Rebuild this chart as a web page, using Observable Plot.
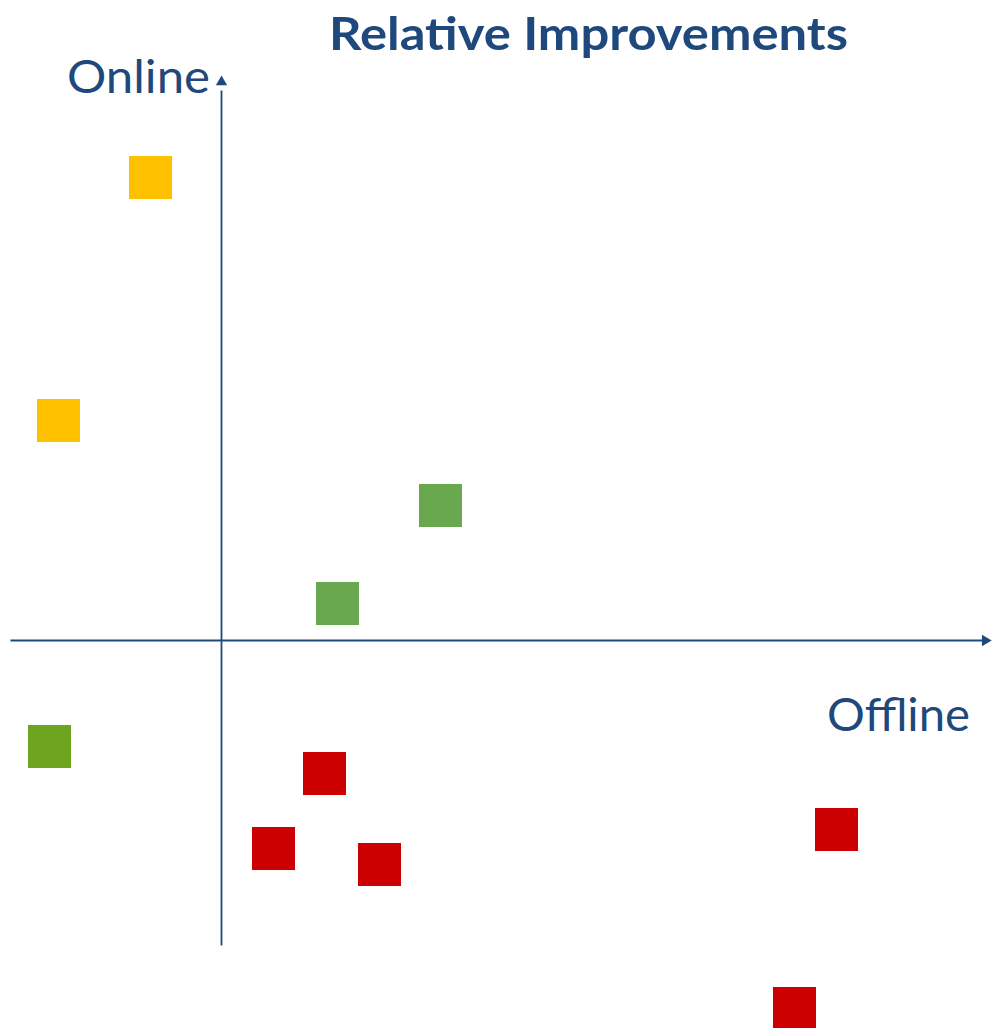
<!DOCTYPE html>
<html>
<head>
<meta charset="utf-8">
<script src="https://cdn.jsdelivr.net/npm/d3@7"></script>
<script src="https://cdn.jsdelivr.net/npm/@observablehq/plot@0.6"></script>
<style>
  html, body { margin: 0; padding: 0; background: #fff; }
  #wrap { position: relative; width: 993px; height: 1028px; overflow: hidden; }
  .lbl { position: absolute; color: #1F497D; white-space: nowrap; line-height: 1; transform-origin: 0 0; }
  #title { left: 329px; top: 5px; font: 700 46px "Lato", "Open Sans", sans-serif; }
  #online { left: 67px; top: 48px; font: 400 46px "Lato", sans-serif; }
  #offline { left: 827px; top: 686px; font: 400 46px "Lato", sans-serif; }
</style>
</head>
<body>
<div id="wrap">
  <div id="chart"></div>
  <div class="lbl" id="title" data-w="519">Relative Improvements</div>
  <div class="lbl" id="online" data-w="143">Online</div>
  <div class="lbl" id="offline" data-w="143">Offline</div>
</div>
<script>
// Relative improvements: offline (x) vs online (y)
const offline = [-0.71, -1.63, 2.19, 1.16, -1.72, 1.03, 0.52, 1.58, 6.15, 5.73];
const online  = [ 4.63,  2.20, 1.35, 0.37, -1.06, -1.33, -2.08, -2.24, -1.89, -3.68];
const group   = ["yellow", "yellow", "green", "green", "olive", "red", "red", "red", "red", "red"];

const colorMap = {yellow: "#FFC000", green: "#6AA84F", olive: "#6EA520", red: "#CC0000"};
const data = offline.map((x, i) => ({x, y: online[i], g: group[i]}));

const axisColor = "#1F497D";
const xDomain = [-2.21, 7.72];
const yDomain = [-3.88, 6.40];

const chart = Plot.plot({
  width: 993,
  height: 1028,
  margin: 0,
  x: {domain: xDomain, axis: null},
  y: {domain: yDomain, axis: null},
  marks: [
    // horizontal axis
    Plot.link([{x1: -2.11, y1: 0, x2: 7.62, y2: 0}], {x1: "x1", y1: "y1", x2: "x2", y2: "y2", stroke: axisColor, strokeWidth: 1.8}),
    Plot.dot([{x: 7.637, y: 0}], {x: "x", y: "y", symbol: "triangle", r: 4.2, fill: axisColor, stroke: "none", rotate: 90}),
    // vertical axis
    Plot.link([{x1: 0, y1: -3.05, x2: 0, y2: 5.5}], {x1: "x1", y1: "y1", x2: "x2", y2: "y2", stroke: axisColor, strokeWidth: 1.8}),
    Plot.dot([{x: 0, y: 5.585}], {x: "x", y: "y", symbol: "triangle", r: 4.2, fill: axisColor, stroke: "none"}),
    // squares
    Plot.dot(data, {x: "x", y: "y", symbol: "square", r: 24.26, fill: d => colorMap[d.g], stroke: "none"})
  ]
});
document.getElementById("chart").appendChild(chart);

// stretch the text labels horizontally to the reference widths
document.querySelectorAll(".lbl").forEach(el => {
  const w = el.getBoundingClientRect().width;
  const target = +el.dataset.w;
  if (w > 0) el.style.transform = `scaleX(${target / w})`;
});
</script>
</body>
</html>
